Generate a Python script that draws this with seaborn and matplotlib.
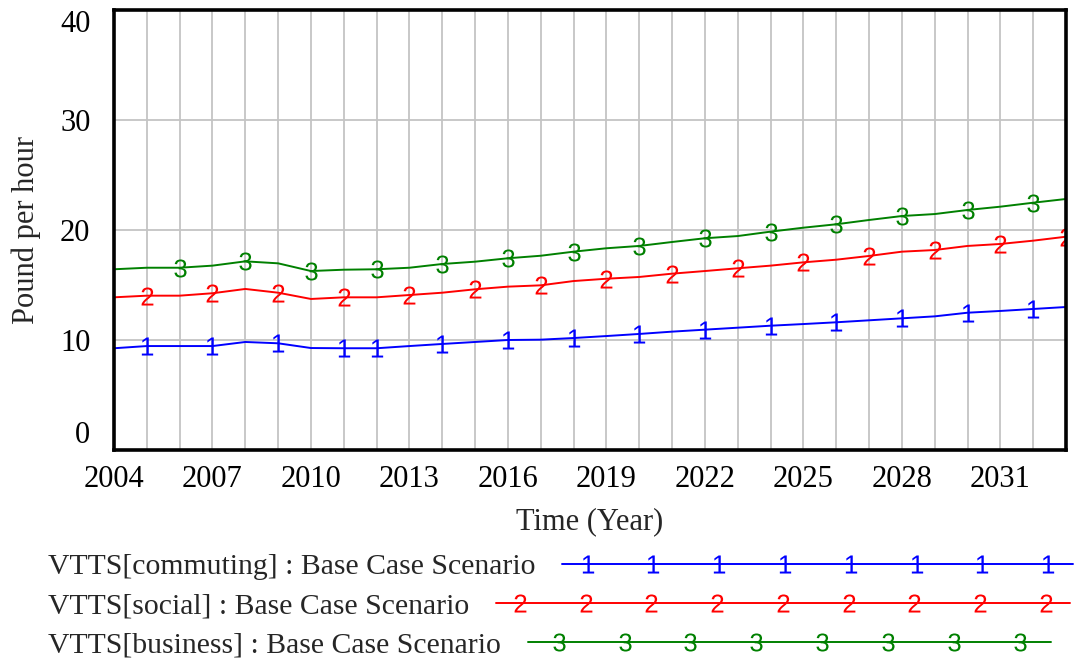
import matplotlib
matplotlib.use("Agg")
import matplotlib.pyplot as plt
import seaborn as sns
from matplotlib.lines import Line2D
from matplotlib.legend_handler import HandlerLine2D, HandlerTuple

# Data (Pound per hour, Base Case Scenario)
years = list(range(2004, 2034))
commuting = [9.25, 9.45, 9.45, 9.45, 9.82, 9.70, 9.27, 9.25, 9.25, 9.45,
             9.64, 9.82, 10.00, 10.03, 10.18, 10.36, 10.55, 10.76, 10.94, 11.12,
             11.30, 11.45, 11.61, 11.79, 11.97, 12.15, 12.48, 12.64, 12.82, 13.00]
social = [13.88, 14.03, 14.03, 14.25, 14.64, 14.30, 13.73, 13.88, 13.88, 14.09,
          14.30, 14.61, 14.85, 14.97, 15.36, 15.57, 15.73, 16.03, 16.27, 16.52,
          16.76, 17.06, 17.30, 17.64, 18.03, 18.18, 18.55, 18.73, 19.03, 19.39]
business = [16.43, 16.57, 16.57, 16.76, 17.15, 16.97, 16.27, 16.39, 16.43, 16.57,
            16.91, 17.12, 17.43, 17.66, 18.03, 18.34, 18.55, 18.91, 19.25, 19.45,
            19.85, 20.21, 20.52, 20.91, 21.27, 21.45, 21.82, 22.12, 22.48, 22.82]
series_labels = [
    "VTTS[commuting] : Base Case Scenario",
    "VTTS[social] : Base Case Scenario",
    "VTTS[business] : Base Case Scenario",
]
x_tick_years = list(range(2004, 2032, 3))
y_ticks = [0, 10, 20, 30, 40]

# Style: Vensim-like number markers
colors = ["#0000ff", "#ff0000", "#008000"]
digits = ["$1$", "$2$", "$3$"]
mark_years = [
    [2005, 2007, 2009, 2011, 2012] + list(range(2014, 2033, 2)),
    list(range(2005, 2034, 2)),
    list(range(2006, 2033, 2)),
]

sns.set_theme(style="white")
plt.rcParams["font.family"] = ["Liberation Serif", "DejaVu Serif"]
plt.rcParams["mathtext.fontset"] = "custom"
plt.rcParams["mathtext.rm"] = "Liberation Sans"
plt.rcParams["mathtext.it"] = "Liberation Sans"

fig = plt.figure(figsize=(10.76, 6.59), dpi=100)
ax = fig.add_axes([114 / 1076, 1 - 450 / 659, 952 / 1076, 440 / 659])

for vals, color, digit, marks in zip([commuting, social, business], colors, digits, mark_years):
    idx = [years.index(y) for y in marks]
    sns.lineplot(x=years, y=vals, ax=ax, color=color, lw=1.4, marker=digit,
                 markevery=idx, markersize=13, markeredgewidth=0,
                 markerfacecolor=color, markeredgecolor=color, legend=False)

ax.set_xlim(2004, 2033)
ax.set_ylim(0, 40)
ax.set_xticks(x_tick_years)
ax.set_xticks(years, minor=True)
ax.set_yticks(y_ticks)
ax.set_yticklabels([str(v) for v in y_ticks])
ax.tick_params(axis="both", which="both", length=0, labelsize=22, colors="black")
ax.tick_params(axis="x", pad=11)
ax.tick_params(axis="y", pad=17)
labels = ax.get_yticklabels()
labels[0].set_va("bottom")
labels[-1].set_va("top")

ax.set_axisbelow(True)
ax.grid(axis="x", which="both", color="#c4c4c4", lw=1.3)
ax.grid(axis="y", which="major", color="#c4c4c4", lw=1.3)
for sp in ax.spines.values():
    sp.set_visible(True)
    sp.set_color("black")
    sp.set_linewidth(2.6)

ax.set_xlabel("Time (Year)", fontsize=22, labelpad=9)
ax.set_ylabel("Pound per hour", fontsize=22, labelpad=14)

# Vensim-style legend rows under the chart
row_y = [1 - 567 / 659, 1 - 606 / 659, 1 - 645 / 659]
handle_len = [17.2, 19.3, 17.6]
n_marks = [8, 9, 8]
mark_pad = [0.85, 0.8, 1.05]
for label, color, digit, y, hl, n, mp in zip(series_labels, colors, digits, row_y,
                                             handle_len, n_marks, mark_pad):
    base = Line2D([], [], color=color, lw=1.4)
    marks = Line2D([], [], color=color, ls="none", marker=digit, markersize=13,
                   markeredgewidth=0)
    fig.legend(handles=[(base, marks)], labels=[label], loc="center left",
               bbox_to_anchor=(48 / 1076, y), frameon=False, markerfirst=False,
               handlelength=hl, handletextpad=0.9, borderpad=0, borderaxespad=0,
               fontsize=21.4,
               handler_map={base: HandlerLine2D(marker_pad=0, numpoints=2),
                            marks: HandlerLine2D(marker_pad=mp, numpoints=n),
                            tuple: HandlerTuple(ndivide=1)})

fig.savefig("out.png", dpi=100)
